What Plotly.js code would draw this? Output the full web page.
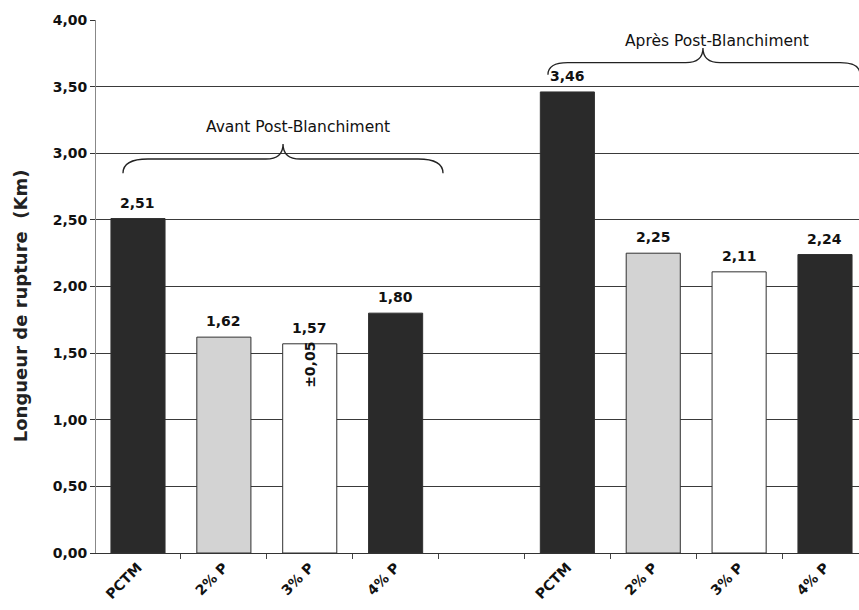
<!DOCTYPE html>
<html>
<head>
<meta charset="utf-8">
<script src="https://cdn.plot.ly/plotly-3.0.1.min.js"></script>
<style>
  html, body { margin: 0; padding: 0; background: #fff; }
  #chart { width: 859px; height: 610px; }
</style>
</head>
<body>
<div id="chart"></div>
<script>
// Breaking length of the pulps, before and after post-bleaching
const groupNames = ['Avant Post-Blanchiment', 'Après Post-Blanchiment'];
const treatments = ['PCTM', '2% P', '3% P', '4% P'];
const avantValues = [2.51, 1.62, 1.57, 1.80];
const apresValues = [3.46, 2.25, 2.11, 2.24];
const yTickValues = [0, 0.5, 1, 1.5, 2, 2.5, 3, 3.5, 4];
const noteText = '±0,05';      // spread written inside the 3% P bar
const noteTreatment = 2;        // index of 3% P
const noteY = 1.41;

const fontMain = 'DejaVu Sans, Arial, sans-serif';
const fills = ['#2a2a2a', '#d3d3d3', '#ffffff', '#2a2a2a'];

// slot layout: 4 bars, one empty slot, 4 bars
const slotsPerGroup = treatments.length + 1;
const series = [avantValues, apresValues];

const traces = series.map((vals, g) => ({
  type: 'bar',
  name: groupNames[g],
  x: treatments.map((_, i) => g * slotsPerGroup + i),
  y: vals,
  width: 0.63,
  marker: { color: fills, line: { color: '#303030', width: 1 } },
  hoverinfo: 'x+y',
  showlegend: false
}));

const tickPos = [];
const tickText = [];
series.forEach((vals, g) => treatments.forEach((t, i) => {
  tickPos.push(g * slotsPerGroup + i);
  tickText.push(t);
}));
const slotCount = series.length * slotsPerGroup - 1;
const boundaries = [];
for (let k = 0; k <= slotCount; k++) boundaries.push(k - 0.5);

const fmt = v => v.toFixed(2).replace('.', ',');

const annotations = [];
series.forEach((vals, g) => vals.forEach((v, i) => {
  annotations.push({
    x: g * slotsPerGroup + i, y: v, xref: 'x', yref: 'y',
    text: fmt(v), showarrow: false, yanchor: 'bottom', yshift: 6,
    font: { family: fontMain, size: 14, color: '#111', weight: 'bold' }
  });
}));

// group captions above the braces
annotations.push({
  x: 1.863, y: 3.197, xref: 'x', yref: 'y', text: groupNames[0],
  showarrow: false, font: { family: fontMain, size: 15.5, color: '#111' }
});
annotations.push({
  x: 6.742, y: 3.842, xref: 'x', yref: 'y', text: groupNames[1],
  showarrow: false, font: { family: fontMain, size: 15.5, color: '#111' }
});
// spread note written vertically inside the bar
annotations.push({
  x: noteTreatment, y: noteY, xref: 'x', yref: 'y', text: noteText,
  textangle: -90, showarrow: false,
  font: { family: fontMain, size: 14, color: '#111', weight: 'bold' }
});
// y axis title
annotations.push({
  x: -0.0996, y: 0.463, xref: 'paper', yref: 'paper',
  text: 'Longueur de rupture  (Km)', textangle: -90, showarrow: false,
  xanchor: 'center', yanchor: 'middle',
  font: { family: fontMain, size: 18, color: '#222', weight: 'bold' }
});

// curly brace drawn as a path in axis units
function brace(x0, x1, xm, yEnd, yLine, yPeak, curl, tip) {
  return `M${x0},${yEnd} Q${x0},${yLine} ${x0 + curl},${yLine} ` +
         `L${xm - tip},${yLine} Q${xm},${yLine} ${xm},${yPeak} ` +
         `Q${xm},${yLine} ${xm + tip},${yLine} L${x1 - curl},${yLine} ` +
         `Q${x1},${yLine} ${x1},${yEnd}`;
}

const shapes = [
  { type: 'path', xref: 'x', yref: 'y',
    path: brace(-0.175, 3.552, 1.689, 2.85, 2.957, 3.07, 0.29, 0.2),
    line: { color: '#222', width: 1.3 } },
  { type: 'path', xref: 'x', yref: 'y',
    path: brace(4.774, 8.408, 6.579, 3.59, 3.68, 3.79, 0.23, 0.2),
    line: { color: '#222', width: 1.3 } }
];

const layout = {
  width: 859, height: 610,
  margin: { l: 96, r: 0, t: 20, b: 57, pad: 0 },
  paper_bgcolor: '#fff', plot_bgcolor: '#fff',
  separators: ', ',
  bargap: 0,
  xaxis: {
    range: [-0.489, 8.396],
    tickmode: 'array', tickvals: tickPos, ticktext: tickText,
    tickangle: -45, ticks: '', showgrid: false, zeroline: false,
    showline: true, linecolor: '#333', linewidth: 1,
    tickfont: { family: fontMain, size: 14, color: '#111', weight: 'bold' },
    minor: { tickmode: 'array', tickvals: boundaries, ticks: 'outside',
             ticklen: 5, tickcolor: '#444', showgrid: false }
  },
  yaxis: {
    range: [0, 4], tickmode: 'array', tickvals: yTickValues,
    tickformat: '.2f', ticks: 'outside', ticklen: 5, tickcolor: '#333',
    showgrid: true, gridcolor: '#3a3a3a', gridwidth: 1,
    zeroline: false, showline: true, linecolor: '#888', linewidth: 1,
    tickfont: { family: fontMain, size: 14, color: '#111', weight: 'bold' }
  },
  annotations: annotations,
  shapes: shapes
};

Plotly.newPlot('chart', traces, layout, { displayModeBar: false, staticPlot: true });
</script>
</body>
</html>
